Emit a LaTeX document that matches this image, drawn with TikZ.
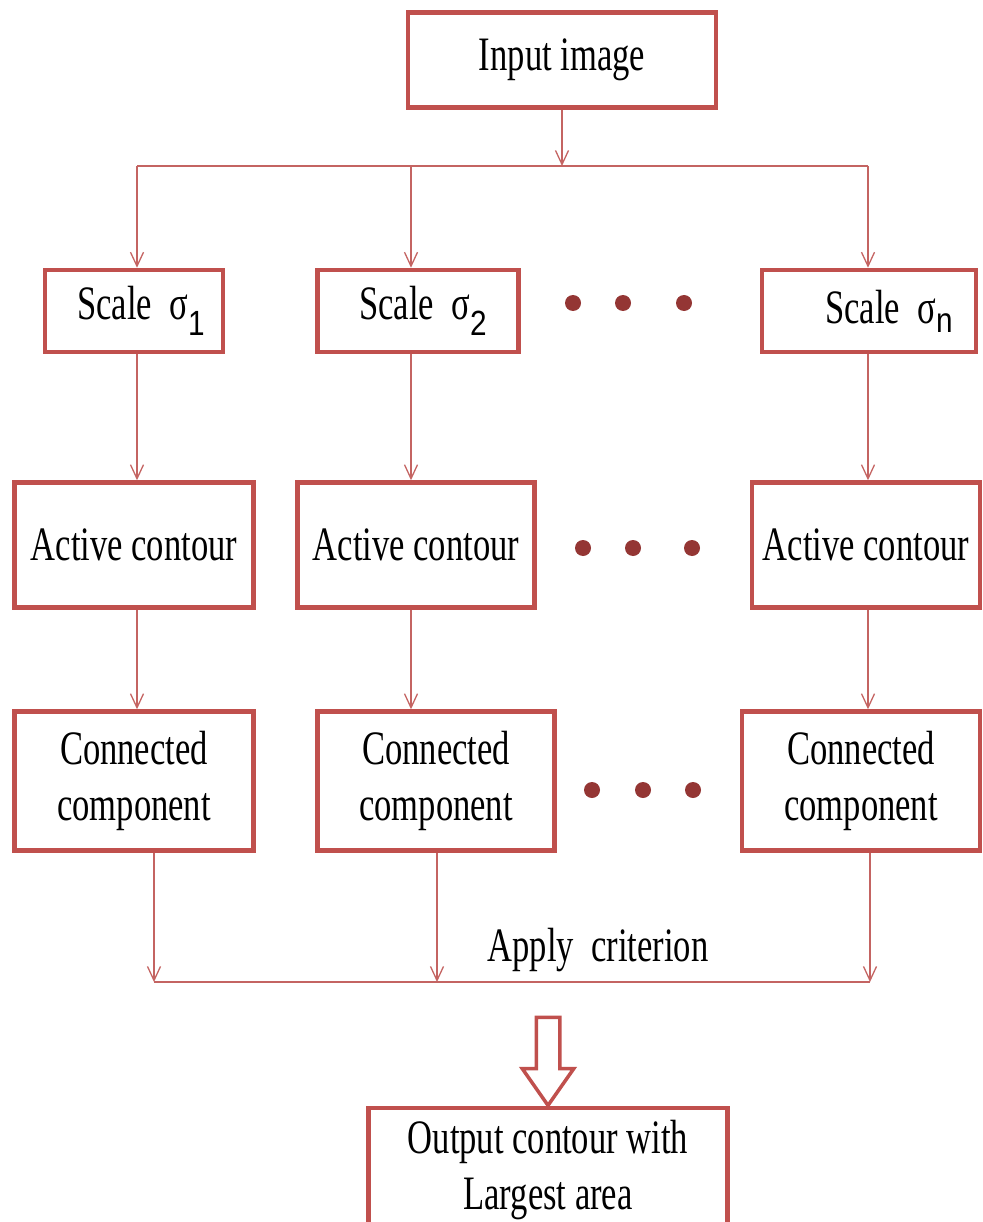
\documentclass[tikz,border=0pt]{standalone}
\usepackage{fontspec}
\setmainfont{Liberation Serif}[FakeStretch=0.72]
\newfontfamily\subfont{Liberation Sans}[FakeStretch=0.85]
\usepackage{tikz}
\usetikzlibrary{positioning, arrows.meta, shapes.arrows}
\definecolor{frame}{HTML}{C0504D}
\definecolor{wire}{HTML}{C46462}
\definecolor{dotred}{HTML}{943634}
\newcommand{\sigsub}[2]{σ\raisebox{-#2pt}{\subfont\fontsize{35}{35}\selectfont #1}}
\tikzset{
  block/.style  = {rectangle, draw=frame, line width=4.5pt, fill=white,
                  align=center, inner sep=2pt,
                  font=\fontsize{48}{56}\selectfont},
  lbl/.style    = {align=center, inner sep=0pt, font=\fontsize{48}{56}\selectfont},
  dot/.style    = {circle, fill=dotred, inner sep=0pt, minimum size=16pt},
  bigarrow/.style = {single arrow, draw=frame, line width=3.5pt, fill=white,
                  inner xsep=0pt, inner ysep=10pt, single arrow head extend=14pt,
                  single arrow tip angle=70, minimum height=88pt},
  ar/.style     = {-{Straight Barb[length=14pt,width=13pt,line width=1.3pt]}, line width=1.3pt, draw=wire},
  ln/.style     = {line width=1.3pt, draw=wire},
}

\begin{document}
\begin{tikzpicture}[x=1pt, y=-1pt]

  \useasboundingbox (0,0) rectangle (982,1222);

  % ----- input -----
  \node[block, minimum width=308pt, minimum height=95pt] (inp) at (562,60) {Input image};
  \coordinate (split) at (562,166);
  \coordinate (t1) at (137,166);
  \coordinate (t2) at (411,166);
  \coordinate (t3) at (868,166);

  % ----- scales -----
  \node[block, minimum width=178pt, minimum height=82pt] (s1) at (134,311) {\hspace{14pt}Scale~~\sigsub{1}{16}};
  \node[block, minimum width=201pt, minimum height=82pt] (s2) at (418,311) {\hspace{10pt}Scale~~\sigsub{2}{16}};
  \node[block, minimum width=214pt, minimum height=82pt] (sn) at (869,311) {\hspace{40pt}Scale~~\sigsub{n}{9}};

  % ----- active contours -----
  \node[block, minimum width=239pt, minimum height=125pt] (a1) at (134,545) {Active contour};
  \node[block, minimum width=237pt, minimum height=125pt] (a2) at (416,545) {Active contour};
  \node[block, minimum width=228pt, minimum height=125pt] (an) at (866,545) {Active contour};

  % ----- connected components -----
  \node[block, minimum width=239pt, minimum height=139pt] (c1) at (134,781) {Connected\\component};
  \node[block, minimum width=237pt, minimum height=139pt] (c2) at (436,781) {Connected\\component};
  \node[block, minimum width=238pt, minimum height=139pt] (cn) at (861,781) {Connected\\component};

  % ----- dots between columns -----
  \foreach \x [count=\i] in {573,623,684} \node[dot] (ds\i) at (\x,303) {};
  \foreach \x [count=\i] in {583,633,692} \node[dot] (da\i) at (\x,548) {};
  \foreach \x [count=\i] in {592,643,693} \node[dot] (dc\i) at (\x,790) {};

  % ----- criterion -----
  \coordinate (b1) at (154,982);
  \coordinate (b2) at (437,982);
  \coordinate (b3) at (870,982);
  \node[lbl] (crit) at (598,950) {Apply~~criterion};
  \node[bigarrow, rotate=-90] (big) at (548,1053) {};
  \node[block, minimum width=359pt, minimum height=124pt] (out) at (548,1170)
       {Output contour with\\Largest area};

  \draw[ar] (inp) -- (split);
  \draw[ln] (t1) -- (t3);
  \draw[ar] (t1) -- (t1 |- s1.north);
  \draw[ar] (t2) -- (t2 |- s2.north);
  \draw[ar] (t3) -- (t3 |- sn.north);

  \draw[ar] (s1.south -| t1) -- (a1.north -| t1);
  \draw[ar] (s2.south -| t2) -- (a2.north -| t2);
  \draw[ar] (sn.south -| t3) -- (an.north -| t3);

  \draw[ar] (a1.south -| t1) -- (c1.north -| t1);
  \draw[ar] (a2.south -| t2) -- (c2.north -| t2);
  \draw[ar] (an.south -| t3) -- (cn.north -| t3);

  \draw[ar] (c1.south -| b1) -- (b1);
  \draw[ar] (c2.south -| b2) -- (b2);
  \draw[ar] (cn.south -| b3) -- (b3);
  \draw[ln] (b1) -- (b3);

\end{tikzpicture}
\end{document}
